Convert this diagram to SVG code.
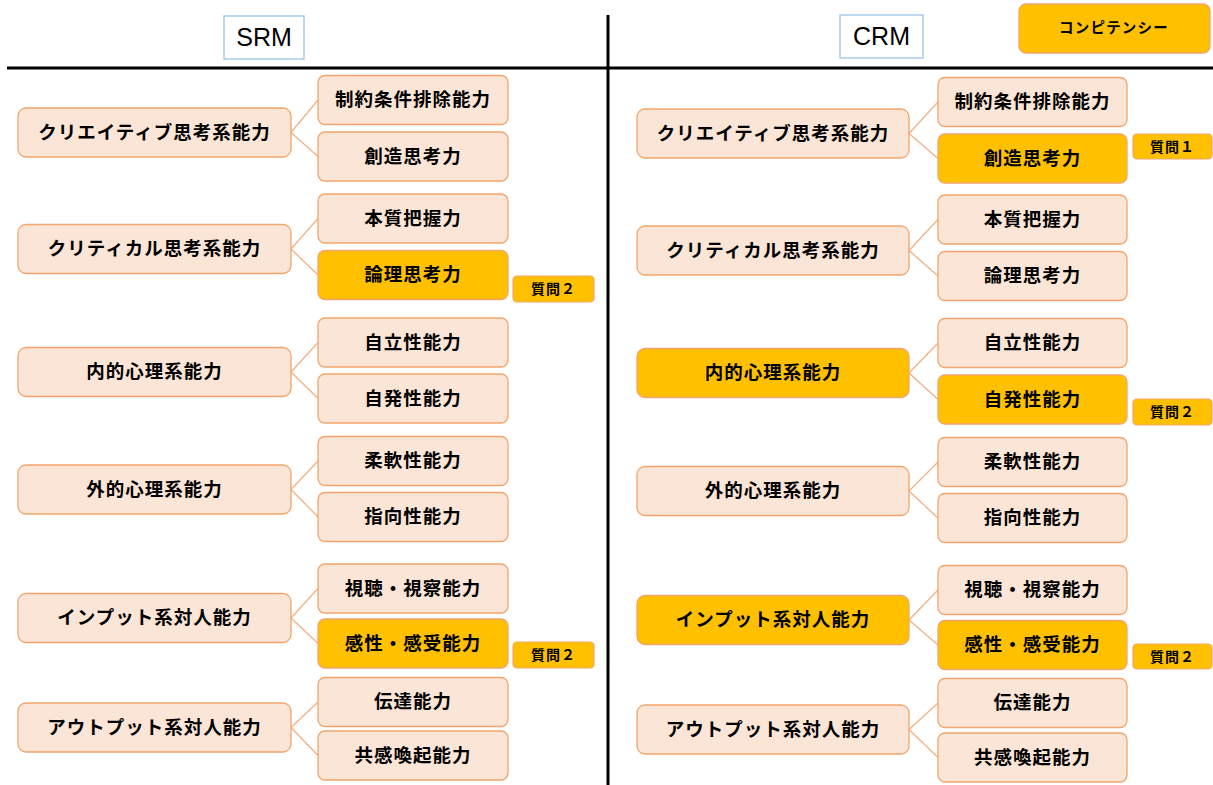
<svg xmlns="http://www.w3.org/2000/svg" width="1213" height="785" viewBox="0 0 1213 785">
<style>
.bg{fill:#ffffff}
.n{fill:#FBE5D6;stroke:#F2A56C;stroke-width:1.3}
.h{fill:#FFC000;stroke:#F2A56C;stroke-width:1.3}
.b{fill:#FFC000;stroke:#F2A56C;stroke-width:1.2}
.t{font-family:"Noto Sans CJK JP","Noto Sans CJK SC",sans-serif;font-size:18.5px;font-weight:700;fill:#000;text-anchor:middle;dominant-baseline:central;letter-spacing:1px}
.s{font-family:"Noto Sans CJK JP","Noto Sans CJK SC",sans-serif;font-size:14px;font-weight:700;fill:#000;text-anchor:middle;dominant-baseline:central;letter-spacing:1px}
.lg{font-family:"Noto Sans CJK JP","Noto Sans CJK SC",sans-serif;font-size:14.5px;font-weight:700;fill:#000;text-anchor:middle;dominant-baseline:central;letter-spacing:1.2px}
.lbl{fill:#fff;stroke:#9DC3E6;stroke-width:1.3}
.lt{font-family:"Liberation Sans",Arial,sans-serif;font-size:25px;fill:#000;text-anchor:middle;dominant-baseline:central}
.c{stroke:#F4B183;stroke-width:1.3;fill:none}
.ax{stroke:#000;stroke-width:3;fill:none}
</style>
<rect class="bg" x="0" y="0" width="1213" height="785"/>
<g id="axes">
<line class="ax" x1="7" y1="68" x2="1213" y2="68"/>
<line class="ax" x1="608" y1="15" x2="608" y2="785"/>
</g>
<g id="srm-label"><rect class="lbl" x="224" y="16" width="80" height="43"/><text class="lt" x="264" y="37">SRM</text></g>
<g id="crm-label"><rect class="lbl" x="840" y="15" width="83" height="43"/><text class="lt" x="881.5" y="36">CRM</text></g>
<g id="legend"><rect class="h" x="1019" y="4" width="191" height="49" rx="7"/><text class="lg" x="1114" y="26.5">コンピテンシー</text></g>

<g id="connectors">
<path class="c" d="M291 132.5L318 100M291 132.5L318 156.5"/>
<path class="c" d="M291 249L318 218.5M291 249L318 275"/>
<path class="c" d="M291 372L318 342.5M291 372L318 398.5"/>
<path class="c" d="M291 489.5L318 461M291 489.5L318 517"/>
<path class="c" d="M291 618L318 588.5M291 618L318 643.5"/>
<path class="c" d="M291 727.5L318 702M291 727.5L318 755.5"/>
<path class="c" d="M909 133.5L938 102M909 133.5L938 158.5"/>
<path class="c" d="M909 250.5L938 219.5M909 250.5L938 276"/>
<path class="c" d="M909 373L938 343M909 373L938 399.5"/>
<path class="c" d="M909 491L938 462M909 491L938 518"/>
<path class="c" d="M909 620L938 590M909 620L938 645"/>
<path class="c" d="M909 729.5L938 703M909 729.5L938 757.5"/>
</g>

<!-- SRM categories -->
<g id="s-cat1"><rect class="n" x="18" y="108" width="273" height="49" rx="8"/><text class="t" x="154.5" y="130.5">クリエイティブ思考系能力</text></g>
<g id="s-cat2"><rect class="n" x="18" y="224.5" width="273" height="49" rx="8"/><text class="t" x="154.5" y="247">クリティカル思考系能力</text></g>
<g id="s-cat3"><rect class="n" x="18" y="347.5" width="273" height="49" rx="8"/><text class="t" x="154.5" y="370">内的心理系能力</text></g>
<g id="s-cat4"><rect class="n" x="18" y="465" width="273" height="49" rx="8"/><text class="t" x="154.5" y="487.5">外的心理系能力</text></g>
<g id="s-cat5"><rect class="n" x="18" y="593.5" width="273" height="49" rx="8"/><text class="t" x="154.5" y="616">インプット系対人能力</text></g>
<g id="s-cat6"><rect class="n" x="18" y="703" width="273" height="49" rx="8"/><text class="t" x="154.5" y="725.5">アウトプット系対人能力</text></g>

<!-- SRM subs -->
<g id="s-sub1"><rect class="n" x="318" y="75.5" width="190" height="49" rx="7"/><text class="t" x="413" y="98">制約条件排除能力</text></g>
<g id="s-sub2"><rect class="n" x="318" y="132" width="190" height="49" rx="7"/><text class="t" x="413" y="154.5">創造思考力</text></g>
<g id="s-sub3"><rect class="n" x="318" y="194" width="190" height="49" rx="7"/><text class="t" x="413" y="216.5">本質把握力</text></g>
<g id="s-sub4"><rect class="h" x="318" y="250.5" width="190" height="49" rx="7"/><text class="t" x="413" y="273">論理思考力</text></g>
<g id="s-sub5"><rect class="n" x="318" y="318" width="190" height="49" rx="7"/><text class="t" x="413" y="340.5">自立性能力</text></g>
<g id="s-sub6"><rect class="n" x="318" y="374" width="190" height="49" rx="7"/><text class="t" x="413" y="396.5">自発性能力</text></g>
<g id="s-sub7"><rect class="n" x="318" y="436.5" width="190" height="49" rx="7"/><text class="t" x="413" y="459">柔軟性能力</text></g>
<g id="s-sub8"><rect class="n" x="318" y="492.5" width="190" height="49" rx="7"/><text class="t" x="413" y="515">指向性能力</text></g>
<g id="s-sub9"><rect class="n" x="318" y="564" width="190" height="49" rx="7"/><text class="t" x="413" y="586.5">視聴・視察能力</text></g>
<g id="s-sub10"><rect class="h" x="318" y="619" width="190" height="49" rx="7"/><text class="t" x="413" y="641.5">感性・感受能力</text></g>
<g id="s-sub11"><rect class="n" x="318" y="677.5" width="190" height="49" rx="7"/><text class="t" x="413" y="700">伝達能力</text></g>
<g id="s-sub12"><rect class="n" x="318" y="731" width="190" height="49" rx="7"/><text class="t" x="413" y="753.5">共感喚起能力</text></g>

<g id="s-badge1"><rect class="b" x="513" y="276" width="81" height="26" rx="4"/><text class="s" x="553.5" y="288">質問２</text></g>
<g id="s-badge2"><rect class="b" x="513" y="642" width="81" height="26" rx="4"/><text class="s" x="553.5" y="654">質問２</text></g>

<!-- CRM categories -->
<g id="c-cat1"><rect class="n" x="637" y="109" width="272" height="49" rx="8"/><text class="t" x="773" y="131.5">クリエイティブ思考系能力</text></g>
<g id="c-cat2"><rect class="n" x="637" y="226" width="272" height="49" rx="8"/><text class="t" x="773" y="248.5">クリティカル思考系能力</text></g>
<g id="c-cat3"><rect class="h" x="637" y="348.5" width="272" height="49" rx="8"/><text class="t" x="773" y="371">内的心理系能力</text></g>
<g id="c-cat4"><rect class="n" x="637" y="466.5" width="272" height="49" rx="8"/><text class="t" x="773" y="489">外的心理系能力</text></g>
<g id="c-cat5"><rect class="h" x="637" y="595.5" width="272" height="49" rx="8"/><text class="t" x="773" y="618">インプット系対人能力</text></g>
<g id="c-cat6"><rect class="n" x="637" y="705" width="272" height="49" rx="8"/><text class="t" x="773" y="727.5">アウトプット系対人能力</text></g>

<!-- CRM subs -->
<g id="c-sub1"><rect class="n" x="938" y="77.5" width="189" height="49" rx="7"/><text class="t" x="1032.5" y="100">制約条件排除能力</text></g>
<g id="c-sub2"><rect class="h" x="938" y="134" width="189" height="49" rx="7"/><text class="t" x="1032.5" y="156.5">創造思考力</text></g>
<g id="c-sub3"><rect class="n" x="938" y="195" width="189" height="49" rx="7"/><text class="t" x="1032.5" y="217.5">本質把握力</text></g>
<g id="c-sub4"><rect class="n" x="938" y="251.5" width="189" height="49" rx="7"/><text class="t" x="1032.5" y="274">論理思考力</text></g>
<g id="c-sub5"><rect class="n" x="938" y="318.5" width="189" height="49" rx="7"/><text class="t" x="1032.5" y="341">自立性能力</text></g>
<g id="c-sub6"><rect class="h" x="938" y="375" width="189" height="49" rx="7"/><text class="t" x="1032.5" y="397.5">自発性能力</text></g>
<g id="c-sub7"><rect class="n" x="938" y="437.5" width="189" height="49" rx="7"/><text class="t" x="1032.5" y="460">柔軟性能力</text></g>
<g id="c-sub8"><rect class="n" x="938" y="493.5" width="189" height="49" rx="7"/><text class="t" x="1032.5" y="516">指向性能力</text></g>
<g id="c-sub9"><rect class="n" x="938" y="565.5" width="189" height="49" rx="7"/><text class="t" x="1032.5" y="588">視聴・視察能力</text></g>
<g id="c-sub10"><rect class="h" x="938" y="620.5" width="189" height="49" rx="7"/><text class="t" x="1032.5" y="643">感性・感受能力</text></g>
<g id="c-sub11"><rect class="n" x="938" y="678.5" width="189" height="49" rx="7"/><text class="t" x="1032.5" y="701">伝達能力</text></g>
<g id="c-sub12"><rect class="n" x="938" y="733" width="189" height="49" rx="7"/><text class="t" x="1032.5" y="755.5">共感喚起能力</text></g>

<g id="c-badge1"><rect class="b" x="1133" y="134" width="79" height="25" rx="4"/><text class="s" x="1172.5" y="145.5">質問１</text></g>
<g id="c-badge2"><rect class="b" x="1133" y="399" width="79" height="26" rx="4"/><text class="s" x="1172.5" y="411">質問２</text></g>
<g id="c-badge3"><rect class="b" x="1133" y="644" width="79" height="25" rx="4"/><text class="s" x="1172.5" y="655.5">質問２</text></g>
</svg>
